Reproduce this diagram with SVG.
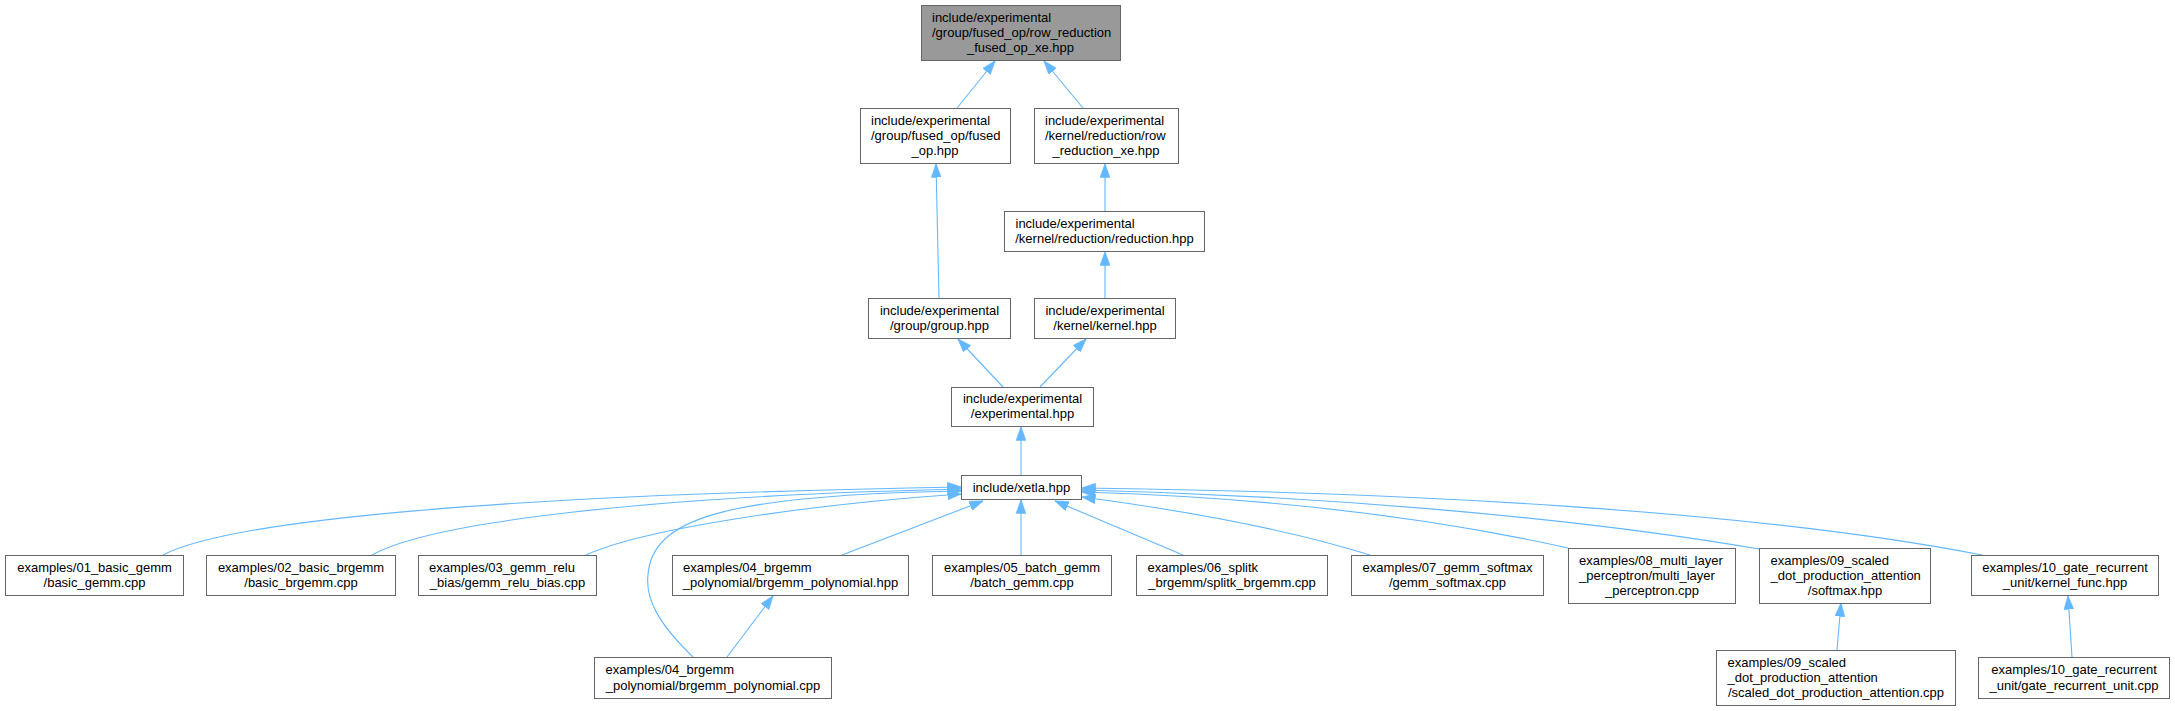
<svg xmlns="http://www.w3.org/2000/svg" width="2175" height="711" viewBox="0 0 2175 711">
<style>
.node rect{fill:#ffffff;stroke:#666666;stroke-width:1}
.node.root rect{fill:#999999}
text{font-family:"Liberation Sans",Arial,Helvetica,sans-serif;font-size:13px;fill:#000000}
.s{text-anchor:start}
.m{text-anchor:middle}
.edges path{fill:none;stroke:#63b8ff;stroke-width:1.1;marker-end:url(#arr)}
</style>
<defs>
<marker id="arr" viewBox="0 0 14 10" refX="13.5" refY="5" markerWidth="14" markerHeight="10" markerUnits="userSpaceOnUse" orient="auto">
<path d="M0,0 L14,5 L0,10 z" fill="#63b8ff" stroke="#63b8ff" stroke-width="0.5"/>
</marker>
</defs>
<rect width="2175" height="711" fill="#ffffff"/>
<g class="edges">
<path d="M957,108 L995,61"/>
<path d="M1083,108 L1044,61"/>
<path d="M939,298 L936,164"/>
<path d="M1105,211 L1105,164"/>
<path d="M1105,298 L1105,252"/>
<path d="M1003,387 L958,339"/>
<path d="M1040,387 L1086,339"/>
<path d="M1021,475 L1021,427"/>
<path d="M163,555 C230,520 500,495 961,487"/>
<path d="M372,555 C430,522 650,496 961,489"/>
<path d="M586,555 C640,530 800,505 961,494"/>
<path d="M693,657 C660,625 645,600 648,575 C652,520 720,495 961,491"/>
<path d="M842,555 L983,501"/>
<path d="M727,657 L773,596"/>
<path d="M1021,555 L1021,500"/>
<path d="M1183,555 L1055,501"/>
<path d="M1370,555 C1290,530 1180,510 1082,497"/>
<path d="M1568,548 C1420,515 1250,497 1082,492"/>
<path d="M1759,549 C1560,515 1300,495 1082,490"/>
<path d="M1982,555 C1750,510 1400,492 1082,488"/>
<path d="M1837,650 L1841,603"/>
<path d="M2072,657 L2068,596"/>
</g>
<g id="node_row_reduction_fused_op_xe" class="node root">
<rect x="921.5" y="5.5" width="199" height="55"/>
<text class="s" x="932" y="21.5">include/experimental</text>
<text class="s" x="932" y="36.5">/group/fused_op/row_reduction</text>
<text class="m" x="1020.5" y="51.5">_fused_op_xe.hpp</text>
</g>
<g id="node_fused_op" class="node">
<rect x="860.5" y="108.5" width="150" height="55"/>
<text class="s" x="871" y="124.5">include/experimental</text>
<text class="s" x="871" y="139.5">/group/fused_op/fused</text>
<text class="m" x="935" y="154.5">_op.hpp</text>
</g>
<g id="node_row_reduction_xe" class="node">
<rect x="1034.5" y="108.5" width="144" height="55"/>
<text class="s" x="1045" y="124.5">include/experimental</text>
<text class="s" x="1045" y="139.5">/kernel/reduction/row</text>
<text class="m" x="1106" y="154.5">_reduction_xe.hpp</text>
</g>
<g id="node_reduction" class="node">
<rect x="1004.5" y="211.5" width="200" height="40"/>
<text class="s" x="1015.5" y="227.5">include/experimental</text>
<text class="m" x="1104.5" y="242.5">/kernel/reduction/reduction.hpp</text>
</g>
<g id="node_group" class="node">
<rect x="868.5" y="298.5" width="142" height="40"/>
<text class="m" x="939.5" y="314.5">include/experimental</text>
<text class="m" x="939.5" y="329.5">/group/group.hpp</text>
</g>
<g id="node_kernel" class="node">
<rect x="1034.5" y="298.5" width="141" height="40"/>
<text class="m" x="1105" y="314.5">include/experimental</text>
<text class="m" x="1105" y="329.5">/kernel/kernel.hpp</text>
</g>
<g id="node_experimental" class="node">
<rect x="951.5" y="387.5" width="142" height="39"/>
<text class="m" x="1022.5" y="403">include/experimental</text>
<text class="m" x="1022.5" y="418">/experimental.hpp</text>
</g>
<g id="node_xetla" class="node">
<rect x="961.5" y="475.5" width="120" height="24"/>
<text class="m" x="1021.5" y="491.5">include/xetla.hpp</text>
</g>
<g id="node_basic_gemm" class="node">
<rect x="5.5" y="555.5" width="178" height="40"/>
<text class="m" x="94.5" y="571.5">examples/01_basic_gemm</text>
<text class="m" x="94.5" y="586.5">/basic_gemm.cpp</text>
</g>
<g id="node_basic_brgemm" class="node">
<rect x="206.5" y="555.5" width="189" height="40"/>
<text class="m" x="301" y="571.5">examples/02_basic_brgemm</text>
<text class="m" x="301" y="586.5">/basic_brgemm.cpp</text>
</g>
<g id="node_gemm_relu_bias" class="node">
<rect x="418.5" y="555.5" width="178" height="40"/>
<text class="s" x="429" y="571.5">examples/03_gemm_relu</text>
<text class="m" x="507.5" y="586.5">_bias/gemm_relu_bias.cpp</text>
</g>
<g id="node_brgemm_polynomial_hpp" class="node">
<rect x="672.5" y="555.5" width="236" height="40"/>
<text class="s" x="683" y="571.5">examples/04_brgemm</text>
<text class="m" x="790.5" y="586.5">_polynomial/brgemm_polynomial.hpp</text>
</g>
<g id="node_brgemm_polynomial_cpp" class="node">
<rect x="594.5" y="657.5" width="237" height="41"/>
<text class="s" x="605.5" y="674">examples/04_brgemm</text>
<text class="m" x="713" y="689.5">_polynomial/brgemm_polynomial.cpp</text>
</g>
<g id="node_batch_gemm" class="node">
<rect x="932.5" y="555.5" width="179" height="40"/>
<text class="m" x="1022" y="571.5">examples/05_batch_gemm</text>
<text class="m" x="1022" y="586.5">/batch_gemm.cpp</text>
</g>
<g id="node_splitk_brgemm" class="node">
<rect x="1136.5" y="555.5" width="191" height="40"/>
<text class="s" x="1147.5" y="571.5">examples/06_splitk</text>
<text class="m" x="1232" y="586.5">_brgemm/splitk_brgemm.cpp</text>
</g>
<g id="node_gemm_softmax" class="node">
<rect x="1351.5" y="555.5" width="192" height="40"/>
<text class="m" x="1447.5" y="571.5">examples/07_gemm_softmax</text>
<text class="m" x="1447.5" y="586.5">/gemm_softmax.cpp</text>
</g>
<g id="node_multi_layer_perceptron" class="node">
<rect x="1568.5" y="548.5" width="167" height="55"/>
<text class="s" x="1579" y="564.5">examples/08_multi_layer</text>
<text class="s" x="1579" y="579.5">_perceptron/multi_layer</text>
<text class="m" x="1652" y="594.5">_perceptron.cpp</text>
</g>
<g id="node_softmax_hpp" class="node">
<rect x="1759.5" y="548.5" width="171" height="55"/>
<text class="s" x="1770.5" y="564.5">examples/09_scaled</text>
<text class="s" x="1770.5" y="579.5">_dot_production_attention</text>
<text class="m" x="1845" y="594.5">/softmax.hpp</text>
</g>
<g id="node_kernel_func" class="node">
<rect x="1971.5" y="555.5" width="187" height="40"/>
<text class="m" x="2065" y="571.5">examples/10_gate_recurrent</text>
<text class="m" x="2065" y="586.5">_unit/kernel_func.hpp</text>
</g>
<g id="node_scaled_dot_production_attention" class="node">
<rect x="1716.5" y="650.5" width="239" height="55"/>
<text class="s" x="1727.5" y="666.5">examples/09_scaled</text>
<text class="s" x="1727.5" y="681.5">_dot_production_attention</text>
<text class="m" x="1836" y="696.5">/scaled_dot_production_attention.cpp</text>
</g>
<g id="node_gate_recurrent_unit" class="node">
<rect x="1978.5" y="657.5" width="191" height="41"/>
<text class="m" x="2074" y="674">examples/10_gate_recurrent</text>
<text class="m" x="2074" y="689.5">_unit/gate_recurrent_unit.cpp</text>
</g>
</svg>
